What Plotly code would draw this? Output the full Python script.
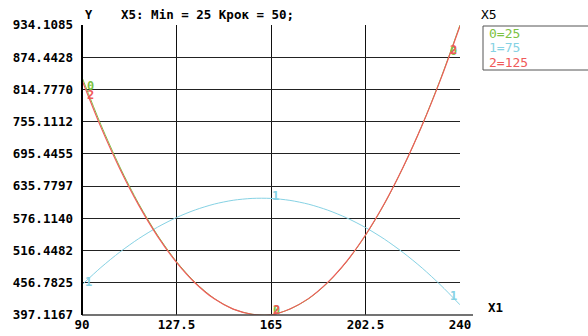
import plotly.graph_objects as go

# ---- data ----
x_vals = [90, 97.5, 105, 112.5, 120, 127.5, 135, 142.5, 150, 157.5, 165,
          172.5, 180, 187.5, 195, 202.5, 210, 217.5, 225, 232.5, 240]
series_names = ["0=25", "1=75", "2=125"]
series_markers = ["0", "1", "2"]
y_s0 = [837.4, 749.5, 671.5, 603.2, 544.7, 495.9, 456.9, 427.6, 408.1, 398.5, 397.1167,
        408.1, 427.5, 456.8, 495.7, 544.5, 602.9, 671.2, 749.1, 836.9, 934.1085]
y_s1 = [453.0, 485.1, 513.6, 538.5, 559.8, 577.6, 591.8, 602.5, 609.6, 613.0, 613.0,
        609.4, 602.2, 591.3, 577.0, 559.1, 537.6, 512.5, 484.0, 451.7, 416.0]
y_s2 = [832.0, 745.0, 668.0, 600.5, 542.8, 494.6, 456.0, 427.0, 407.9, 398.5, 397.3,
        408.2, 427.9, 457.4, 496.4, 545.3, 603.5, 671.5, 748.8, 835.8, 932.5]
x_ticks = [90, 127.5, 165, 202.5, 240]
x_ticktext = ["90", "127.5", "165", "202.5", "240"]
y_ticks = [397.1167, 456.7825, 516.4482, 576.1140, 635.7797,
           695.4455, 755.1112, 814.7770, 874.4428, 934.1085]
y_ticktext = ["397.1167", "456.7825", "516.4482", "576.1140", "635.7797",
              "695.4455", "755.1112", "814.7770", "874.4428", "934.1085"]
title_text = "X5: Min = 25 Крок = 50;"
legend_title = "X5"
x_label = "X1"
y_label = "Y"

colors = ["#7cc243", "#86d2e4", "#f05a5a"]
series = [y_s0, y_s1, y_s2]
FONT = "DejaVu Sans Mono"

fig = go.Figure()
widths = {0: 1, 1: 1, 2: 1.2}
for si in [1, 0, 2]:
    fig.add_trace(go.Scatter(x=x_vals, y=series[si], mode="lines", name=series_names[si],
                             line=dict(color=colors[si], width=widths[si], shape="spline",
                                       smoothing=0.8),
                             showlegend=False, hoverinfo="skip"))

# text markers at the first, middle and last points
mark_idx = [0, 10, 20]
shifts = {
    0: [(8, -9), (5, 5), (-7, -26)],
    1: [(6, 3), (4, 2), (-7, 9)],
    2: [(8, -15), (5, 5), (-7, -24)],
}
annotations = []
for si in [1, 0, 2]:
    ys, c, m = series[si], colors[si], series_markers[si]
    for k, i in enumerate(mark_idx):
        dx, dy = shifts[si][k]
        annotations.append(dict(x=x_vals[i], y=ys[i], xref="x", yref="y",
                                text=m, showarrow=False, xshift=dx, yshift=dy,
                                font=dict(family=FONT, size=12, color=c, weight="bold")))

# titles / labels
annotations.append(dict(x=(83 - 82) / 378, y=1 + 10 / 290, xref="paper", yref="paper",
                        text=y_label, showarrow=False, xanchor="left", yanchor="middle",
                        font=dict(family=FONT, size=12, color="black", weight="bold")))
annotations.append(dict(x=(119 - 82) / 378, y=1 + 10 / 290, xref="paper", yref="paper",
                        text=title_text, showarrow=False, xanchor="left", yanchor="middle",
                        font=dict(family=FONT, size=12.5, color="black", weight="bold")))
annotations.append(dict(x=(486 - 82) / 378, y=(315 - 307) / 290, xref="paper", yref="paper",
                        text=x_label, showarrow=False, xanchor="left", yanchor="middle",
                        font=dict(family=FONT, size=12.5, color="black", weight="bold")))
# legend
annotations.append(dict(x=(479 - 82) / 378, y=(315 - 15) / 290, xref="paper", yref="paper",
                        text=legend_title, showarrow=False, xanchor="left", yanchor="middle",
                        font=dict(family=FONT, size=13, color="black")))
for k, (name, c) in enumerate(zip(series_names, colors)):
    annotations.append(dict(x=(487 - 82) / 378, y=(315 - (33 + 14.5 * k)) / 290,
                            xref="paper", yref="paper", text=name, showarrow=False,
                            xanchor="left", yanchor="middle",
                            font=dict(family=FONT, size=13, color=c)))

shapes = [
    # legend box
    dict(type="rect", xref="paper", yref="paper",
         x0=(483 - 82) / 378, x1=(600 - 82) / 378,
         y0=(315 - 70) / 290, y1=(315 - 26) / 290,
         line=dict(color="#555555", width=1), fillcolor="rgba(0,0,0,0)"),
    # extended bottom axis line
    dict(type="line", xref="paper", yref="paper", x0=0, x1=(473 - 82) / 378, y0=0, y1=0,
         line=dict(color="#444444", width=1.5)),
    # left axis line
    dict(type="line", xref="paper", yref="paper", x0=0, x1=0, y0=0, y1=1,
         line=dict(color="black", width=2)),
]

fig.update_layout(
    width=588, height=336,
    margin=dict(l=82, r=128, t=25, b=21, autoexpand=False),
    plot_bgcolor="white", paper_bgcolor="white",
    showlegend=False,
    annotations=annotations, shapes=shapes,
    xaxis=dict(range=[90, 240], tickvals=x_ticks, ticktext=x_ticktext,
               showgrid=True, gridcolor="#111111", gridwidth=1, zeroline=False,
               showline=False, ticks="", automargin=False,
               tickfont=dict(family=FONT, size=12.5, color="black", weight="bold")),
    yaxis=dict(range=[397.1167, 934.1085], tickvals=y_ticks, ticktext=y_ticktext,
               showgrid=True, gridcolor="#222222", gridwidth=1, zeroline=False,
               showline=False, ticks="", ticklabelstandoff=8, automargin=False,
               tickfont=dict(family=FONT, size=12.5, color="black", weight="bold")),
)

fig.write_html("out.html", config={"displayModeBar": False},
               post_script="document.body.style.margin='0';document.body.style.padding='0';")
